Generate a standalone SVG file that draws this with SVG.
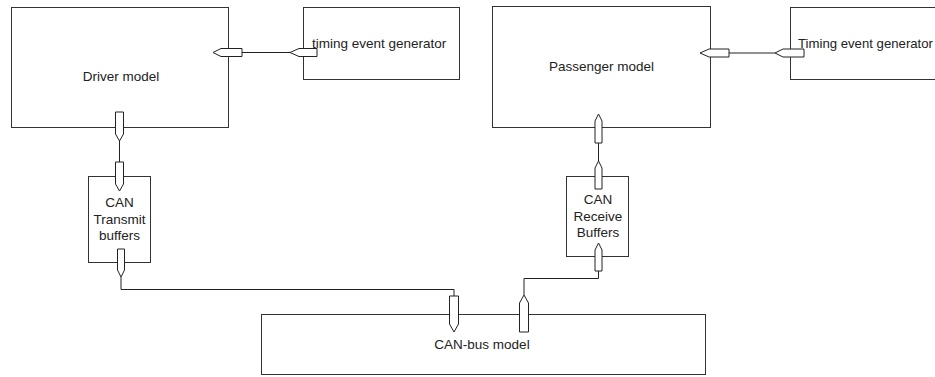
<svg xmlns="http://www.w3.org/2000/svg" width="935" height="377" viewBox="0 0 935 377">
<style>
.box{fill:#fff;stroke:#333;stroke-width:1}
.port{fill:#fff;stroke:#222;stroke-width:1}
.wire{fill:none;stroke:#222;stroke-width:1}
text{font-family:"Liberation Sans",Arial,sans-serif;font-size:13.5px;fill:#222}
.c{text-anchor:middle}
</style>
<rect width="935" height="377" fill="#fff"/>
<g id="driver">
<rect class="box" x="11.5" y="7.5" width="217" height="120"/>
<text class="c" x="121" y="81">Driver model</text>
</g>
<g id="timing1">
<rect class="box" x="303.5" y="7.5" width="156" height="72"/>
<text x="312" y="47.5">timing event generator</text>
</g>
<g id="passenger">
<rect class="box" x="492.5" y="6.5" width="218" height="121"/>
<text class="c" x="601.5" y="71">Passenger model</text>
</g>
<g id="timing2">
<rect class="box" x="790.5" y="7.5" width="160" height="72"/>
<text x="798" y="47.5" textLength="135" lengthAdjust="spacingAndGlyphs">Timing event generator</text>
</g>
<g id="txbuf">
<rect class="box" x="88.5" y="176.5" width="62" height="86"/>
<text class="c" x="119.5" y="207">CAN</text>
<text class="c" x="119.5" y="223.5">Transmit</text>
<text class="c" x="119.5" y="240">buffers</text>
</g>
<g id="rxbuf">
<rect class="box" x="566.5" y="176.5" width="62" height="80"/>
<text class="c" x="598" y="204">CAN</text>
<text class="c" x="598" y="220.5">Receive</text>
<text class="c" x="598" y="237">Buffers</text>
</g>
<g id="canbus">
<rect class="box" x="261.5" y="314.5" width="444" height="60"/>
<text class="c" x="482" y="349">CAN-bus model</text>
</g>
<g id="connectors">
<path class="wire" d="M242,52.5 H290"/>
<path class="wire" d="M729,53 H775"/>
<path class="wire" d="M119.5,141 V162"/>
<path class="wire" d="M121,277 V289.5 H454 V296"/>
<path class="wire" d="M524,295 V278.5 H598.5 V271"/>
<path class="wire" d="M598.5,161 V143"/>
</g>
<g id="ports">
<polygon class="port" points="115.5,112 123.5,112 123.5,134 119.5,141 115.5,134"/>
<polygon class="port" points="115.5,162 123.5,162 123.5,184 119.5,191 115.5,184"/>
<polygon class="port" points="117.5,249 124.5,249 124.5,270 121,277 117.5,270"/>
<polygon class="port" points="449.5,296 458.5,296 458.5,324 454,332 449.5,324"/>
<polygon class="port" points="519.5,332 528.5,332 528.5,303 524,295 519.5,303"/>
<polygon class="port" points="595,271 602,271 602,250 598.5,243 595,250"/>
<polygon class="port" points="595,189 602,189 602,168 598.5,161 595,168"/>
<polygon class="port" points="595,143 602,143 602,121 598.5,114 595,121"/>
<polygon class="port" points="242,48.5 221,48.5 213,52.5 221,56.5 242,56.5"/>
<polygon class="port" points="317,48.5 299,48.5 290,52.5 299,56.5 317,56.5"/>
<polygon class="port" points="729,49 709,49 700,53 709,57 729,57"/>
<polygon class="port" points="804,49 783,49 775,53 783,57 804,57"/>
</g>
</svg>
